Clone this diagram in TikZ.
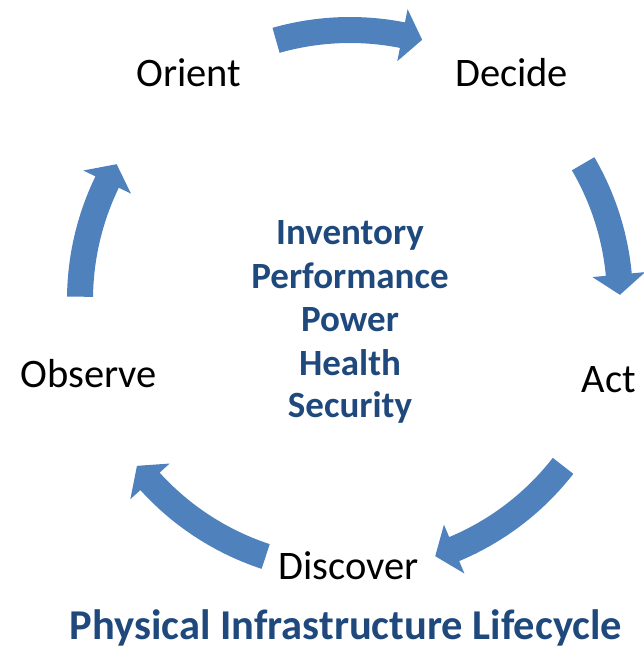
\documentclass[tikz,border=0pt]{standalone}
\usepackage{fontspec}
\setmainfont{Carlito}
\definecolor{arrowblue}{HTML}{4F81BD}
\definecolor{textblue}{HTML}{1F497D}
\newcommand{\cycarrow}[2]{%
  % #1 tail angle, #2 tip angle (clockwise travel)
  \pgfmathsetmacro{\na}{#2+4.3}%
  \fill[arrowblue, shift={(350pt,351pt)}]
    (#1:283pt) arc[start angle=#1, end angle=\na, radius=283pt]
    -- (\na:296.5pt) -- (#2:270pt) -- (\na:243.5pt) -- (\na:257pt)
    arc[start angle=\na, end angle=#1, radius=257pt] -- cycle;
}
\tikzset{
  stagelabel/.style={anchor=base, inner sep=0pt, font=\fontsize{40.5}{48}\selectfont, text=black},
  centerlabel/.style={anchor=base, inner sep=0pt, font=\fontsize{37}{44}\selectfont\bfseries, text=textblue},
  titlelabel/.style={anchor=base, inner sep=0pt, font=\fontsize{42.5}{50}\selectfont\bfseries, text=textblue}
}
\begin{document}
\begin{tikzpicture}[x=1pt,y=1pt]
\useasboundingbox (0,0) rectangle (644,651);
% arrows
\cycarrow{105.9}{74.5}
\cycarrow{30.3}{1.1}
\cycarrow{-37.9}{-71.6}
\cycarrow{-108.2}{-142.1}
\cycarrow{179.3}{149.8}
% stage labels
\node[stagelabel] (orient) at (189,564.3) {Orient};
\node[stagelabel] (decide) at (511.7,564.3) {Decide};
\node[stagelabel] (act) at (609,258.7) {Act};
\node[stagelabel] (discover) at (348.3,71) {Discover};
\node[stagelabel] (observe) at (88.7,263.7) {Observe};
% center
\node[centerlabel] (inv) at (350,406) {Inventory};
\node[centerlabel] (perf) at (350,362.5) {Performance};
\node[centerlabel] (pow) at (350,319) {Power};
\node[centerlabel] (health) at (350,275.5) {Health};
\node[centerlabel] (sec) at (350,233) {Security};
% title
\node[titlelabel] (title) at (346,11) {Physical Infrastructure Lifecycle};
\end{tikzpicture}
\end{document}
